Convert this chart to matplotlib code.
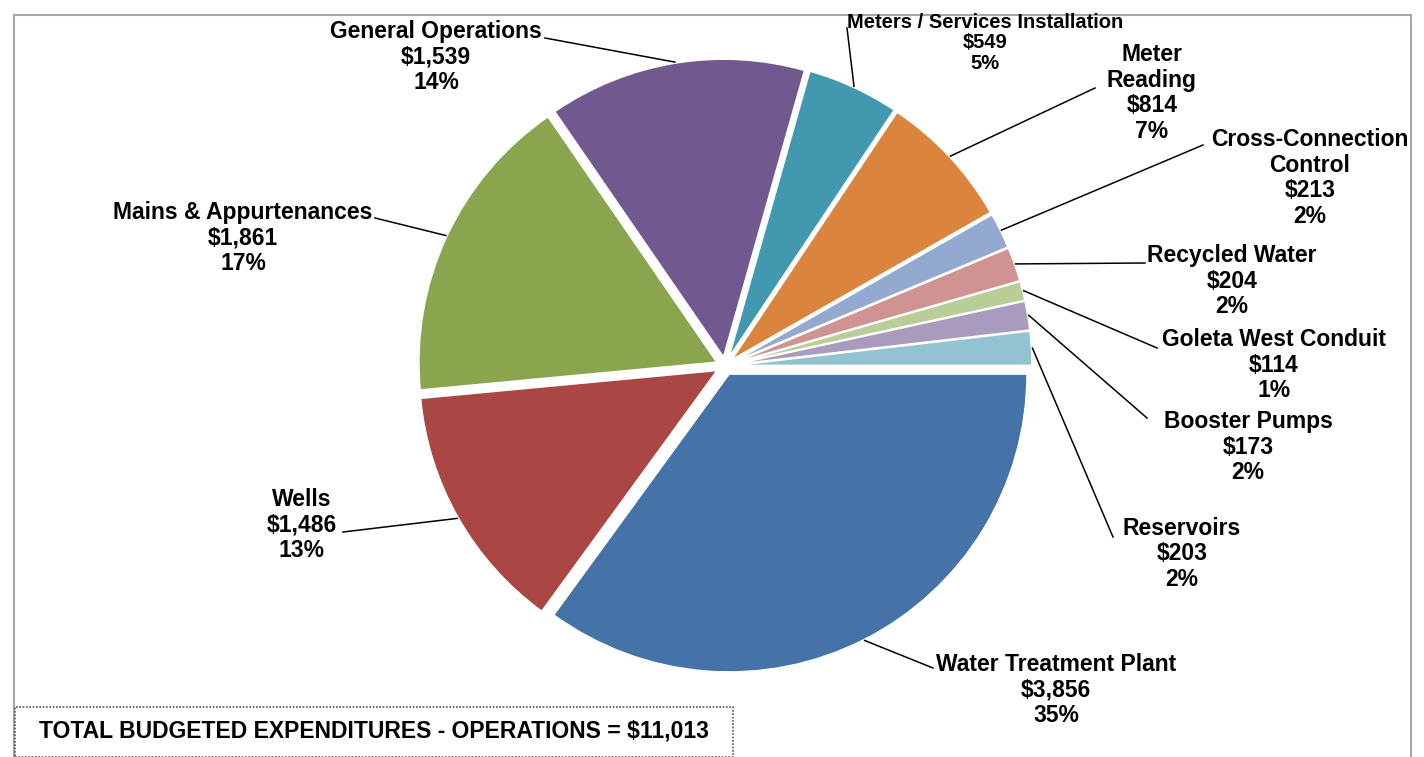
import numpy as np
import matplotlib
matplotlib.use("Agg")
import matplotlib.pyplot as plt
from matplotlib.patches import Rectangle

W, H = 1424, 757

programs = ["Water Treatment Plant", "Wells", "Mains & Appurtenances",
            "General Operations", "Meters / Services Installation",
            "Meter\nReading", "Cross-Connection\nControl", "Recycled Water",
            "Goleta West Conduit", "Booster Pumps", "Reservoirs"]
amounts = [3856, 1486, 1861, 1539, 549, 814, 213, 204, 114, 173, 203]
total_budget = 11013
colors = ["#4572A7", "#AA4643", "#89A54E", "#71588F", "#4198AF", "#DB843D",
          "#93A9CF", "#D19392", "#B9CD96", "#A99BBD", "#92C3D3"]

# label block centres and leader-line ends, in pixel coords (y down)
label_pos = [(1056, 690), (302, 525), (243, 238), (436, 57), (985, 43),
             (1152, 93), (1310, 178), (1232, 281), (1274, 365), (1248, 447),
             (1182, 554)]
line_end = [(933, 668), (343, 532), (375, 218), (545, 38), (847, 28),
            (1095, 88), (1203, 145), (1145, 263), (1157, 348), (1147, 418),
            (1113, 537)]

plt.rcParams['font.family'] = ['Liberation Sans', 'DejaVu Sans']

fig = plt.figure(figsize=(W / 100, H / 100), dpi=100)
ax = fig.add_axes([0, 0, 1, 1])

cx, cy, r = 725, H - 366, 298
gap = 9  # wedge offset in pixels
wedges, _ = ax.pie(amounts, colors=colors, startangle=0, counterclock=False,
                   explode=[gap] * len(amounts), center=(cx, cy), radius=r,
                   frame=True, wedgeprops=dict(edgecolor="white", linewidth=1.2))
ax.set_xlim(0, W)
ax.set_ylim(0, H)
ax.set_aspect("auto")
ax.axis("off")

for i, w in enumerate(wedges):
    mid = np.deg2rad((w.theta1 + w.theta2) / 2)
    wx, wy = w.center
    sx = wx + (r + 1) * np.cos(mid)
    sy = wy + (r + 1) * np.sin(mid)
    ex, ey = line_end[i]
    ax.plot([sx, ex], [sy, H - ey], color="black", lw=1.1, zorder=3)

    pct = round(amounts[i] / total_budget * 100)
    txt = f"{programs[i]}\n${amounts[i]:,}\n{pct}%"
    lx, ly = label_pos[i]
    if i == 4:
        ax.text(lx, H - ly, txt, ha="center", va="center", fontsize=14.5,
                fontweight="bold", linespacing=1.08,
                family=["Liberation Sans Narrow", "Liberation Sans"])
    else:
        ax.text(lx, H - ly, txt, ha="center", va="center", fontsize=16.5,
                fontweight="bold", linespacing=1.16)

# outer frame
ax.add_patch(Rectangle((14, -5), 1397, H - 15 + 5, fill=False,
                       edgecolor="#A6A6A6", lw=1.5, zorder=1))

# total box
ax.add_patch(Rectangle((15, H - 757), 718, 50, fill=False,
                       edgecolor="#555555", lw=1.2, linestyle=(0, (1, 1)),
                       zorder=4))
ax.text(374, H - 731, f"TOTAL BUDGETED EXPENDITURES - OPERATIONS = ${total_budget:,}",
        ha="center", va="center", fontsize=16.5, fontweight="bold")

fig.savefig("out.png", dpi=100)
